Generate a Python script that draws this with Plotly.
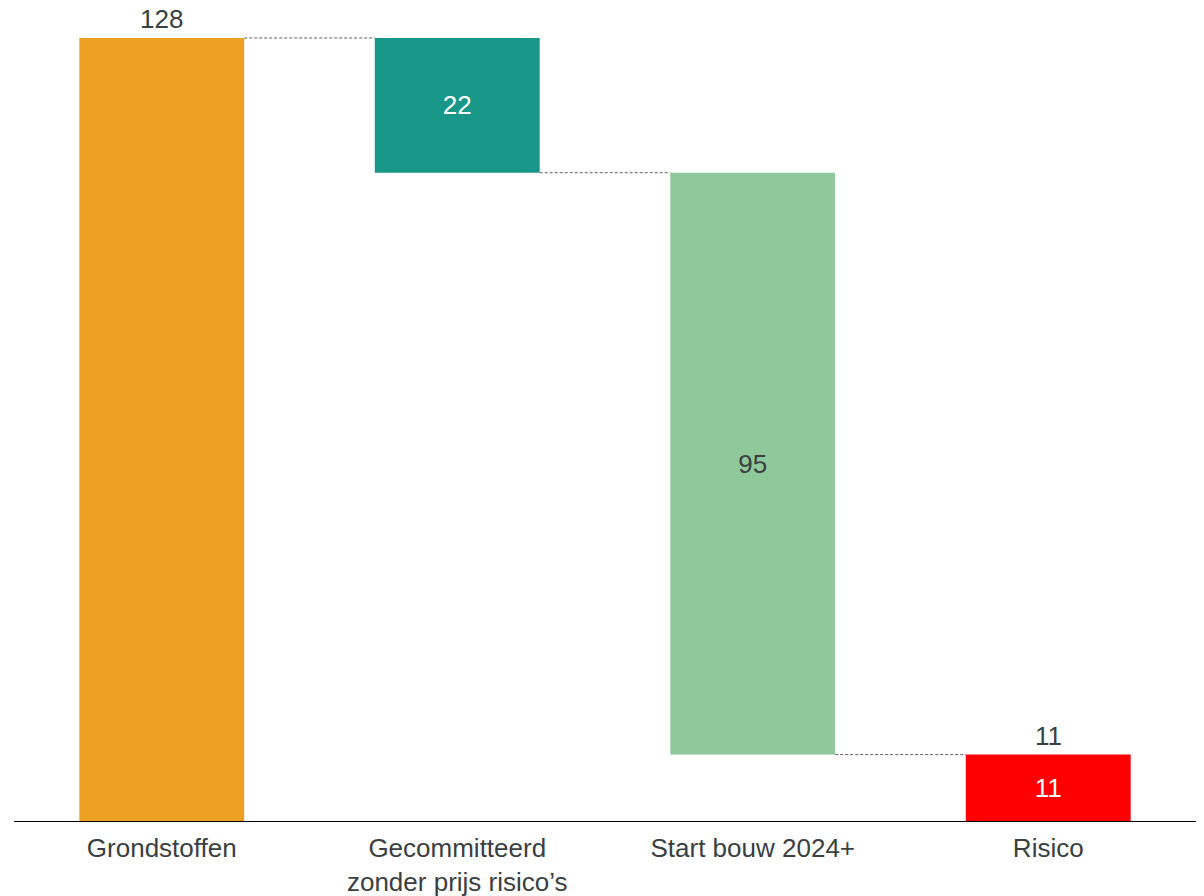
import plotly.graph_objects as go

categories = ["Grondstoffen", "Gecommitteerd<br>zonder prijs risico’s", "Start bouw 2024+", "Risico"]
values = [128, -22, -95, 11]          # first is start value, last is the remaining total
bar_colors = ["#EDA124", "#189687", "#8FC89A", "#FF0000"]
label_colors = ["#3A3F42", "#FFFFFF", "#3A3F42", "#FFFFFF"]

# compute bar bases and tops of the waterfall
bases, heights, ends = [], [], []
running = 0
for i, v in enumerate(values):
    if i == 0 or i == len(values) - 1:
        base, h = 0, abs(v)
        running = v
    else:
        base = running + v
        h = -v
        running = running + v
    bases.append(base)
    heights.append(h)
    ends.append(running)

x = list(range(len(categories)))
bar_w = 0.558
font = "Liberation Sans, Arial, sans-serif"
fsize = 26

fig = go.Figure()
fig.add_trace(go.Bar(
    x=x, y=heights, base=bases, width=bar_w,
    marker=dict(color=bar_colors, line=dict(width=0)),
    text=[str(abs(v)) for v in values],
    textposition=["none", "inside", "inside", "inside"],
    insidetextanchor="middle",
    textangle=0,
    constraintext="none",
    textfont=dict(family=font, size=fsize, color=label_colors),
    hoverinfo="skip",
))

# value labels above the first and last bars
for i in (0, len(values) - 1):
    fig.add_annotation(x=x[i], y=bases[i] + heights[i], text=str(abs(values[i])),
                       showarrow=False, yanchor="bottom", yshift=2,
                       font=dict(family=font, size=fsize, color="#3A3F42"))

# dashed connectors between consecutive bars
for i in range(len(values) - 1):
    fig.add_shape(type="line", xref="x", yref="y",
                  x0=x[i] + bar_w / 2, x1=x[i + 1] - bar_w / 2,
                  y0=ends[i], y1=ends[i],
                  line=dict(color="#5F5F5F", width=1, dash="3px,2px"))

fig.update_layout(
    width=1204, height=896,
    margin=dict(l=14, r=8, t=0, b=74),
    plot_bgcolor="white", paper_bgcolor="white",
    showlegend=False,
    uniformtext=dict(mode=False),
    xaxis=dict(range=[-0.5, 3.5], tickvals=x, ticktext=categories,
               showgrid=False, zeroline=False, showline=False,
               ticks="outside", ticklen=3, tickcolor="rgba(0,0,0,0)",
               automargin=False,
               tickfont=dict(family=font, size=fsize, color="#3A3F42")),
    yaxis=dict(range=[0, 134.2], visible=False, showgrid=False, zeroline=False,
               automargin=False),
)
fig.add_shape(type="line", xref="paper", yref="y", x0=0, x1=1, y0=0, y1=0,
              line=dict(color="#000000", width=2))

fig.write_html("out.html")
